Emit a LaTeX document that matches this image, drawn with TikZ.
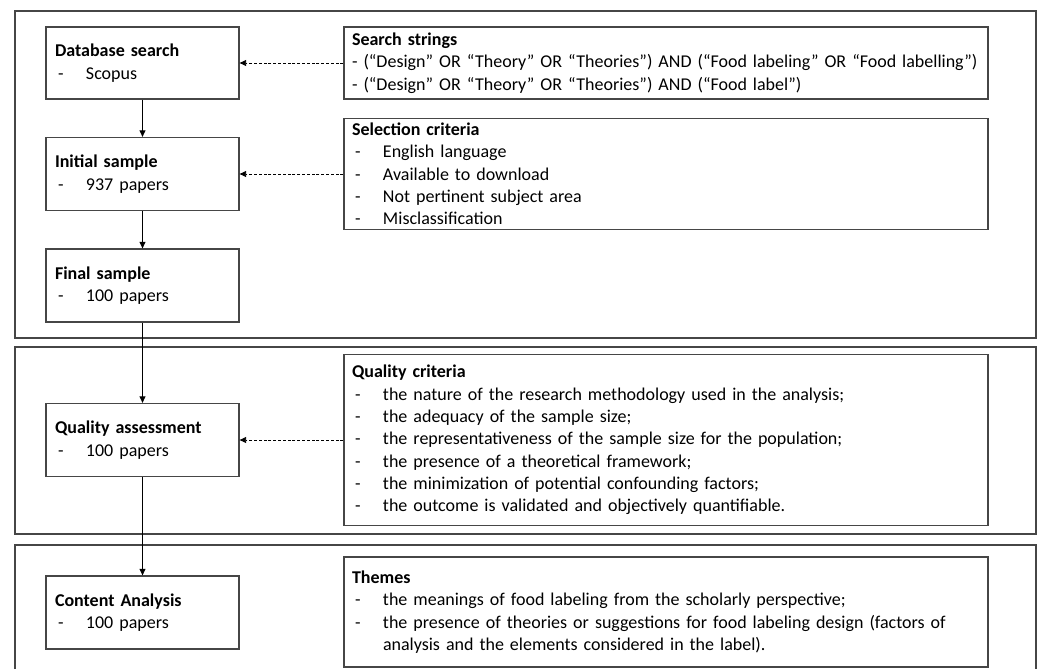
\documentclass[tikz,border=0pt]{standalone}
\usepackage{fontspec}
\setmainfont{Carlito}
\usetikzlibrary{arrows.meta,positioning}
\definecolor{framegray}{RGB}{70,70,70}
\newcommand{\boxfont}{\fontsize{18}{22.3}\selectfont}
\newcommand{\dashitem}{\hspace*{3pt}\makebox[28pt][l]{-}}
\newcommand{\contline}{\hspace*{31pt}}

\begin{document}
\begin{tikzpicture}[x=1pt, y=-1pt,
      panel/.style={draw=framegray, line width=1.3pt},
      stagebox/.style={draw=framegray, line width=1.3pt, align=left,
                       inner xsep=9pt, inner ysep=0pt, text width=175pt,
                       minimum height=73pt, font=\boxfont},
      critbox/.style={stagebox, inner xsep=8pt, text width=628pt},
      arr/.style={-{Triangle[length=6.5pt,width=6pt]}, line width=0.9pt},
      dasharr/.style={arr, dash pattern=on 3pt off 1.8pt}
    ]
    \useasboundingbox (0,0) rectangle (1040,669);
    % three phase frames
    \draw[panel] (15,11) rectangle (1036,338);
    \draw[panel] (15,347) rectangle (1036,534);
    \draw[panel] (15,669) -- (15,545) -- (1036,545) -- (1036,669);

    % left: stages
    \node[stagebox, minimum height=72pt] (dbsearch) at (142.5,63) {%
      \textbf{Database search}\\
      \dashitem Scopus};
    \node[stagebox] (initial) at (142.5,174) {%
      \textbf{Initial sample}\\
      \dashitem 937 papers};
    \node[stagebox] (final) at (142.5,285.5) {%
      \textbf{Final sample}\\
      \dashitem 100 papers};
    \node[stagebox] (quality) at (142.5,440) {%
      \textbf{Quality assessment}\\
      \dashitem 100 papers};
    \node[stagebox] (content) at (142.5,612.5) {%
      \textbf{Content Analysis}\\
      \dashitem 100 papers};

    % right: criteria
    \node[critbox, minimum height=72pt] (strings) at (666,63) {%
      \textbf{Search strings}\\
      - (“Design” OR “Theory” OR “Theories”) AND (“Food labeling” OR “Food labelling”)\\
      - (“Design” OR “Theory” OR “Theories”) AND (“Food label”)};
    \node[critbox, minimum height=111pt] (selection) at (666,174) {%
      \textbf{Selection criteria}\\
      \dashitem English language\\
      \dashitem Available to download\\
      \dashitem Not pertinent subject area\\
      \dashitem Misclassification};
    \node[critbox, minimum height=171pt] (qcriteria) at (666,440) {%
      \textbf{Quality criteria}\\
      \dashitem the nature of the research methodology used in the analysis;\\
      \dashitem the adequacy of the sample size;\\
      \dashitem the representativeness of the sample size for the population;\\
      \dashitem the presence of a theoretical framework;\\
      \dashitem the minimization of potential confounding factors;\\
      \dashitem the outcome is validated and objectively quantifiable.};
    \node[critbox, minimum height=110pt] (themes) at (666,612) {%
      \textbf{Themes}\\
      \dashitem the meanings of food labeling from the scholarly perspective;\\
      \dashitem the presence of theories or suggestions for food labeling design (factors of\\
      \contline analysis and the elements considered in the label).};

    \draw[arr] (dbsearch)--(initial);
    \draw[arr] (initial)--(final);
    \draw[arr] (final)--(quality);
    \draw[arr] (quality)--(content);

    \draw[dasharr] (strings)--(dbsearch);
    \draw[dasharr] (selection)--(initial);
    \draw[dasharr] (qcriteria)--(quality);
  \end{tikzpicture}
\end{document}
